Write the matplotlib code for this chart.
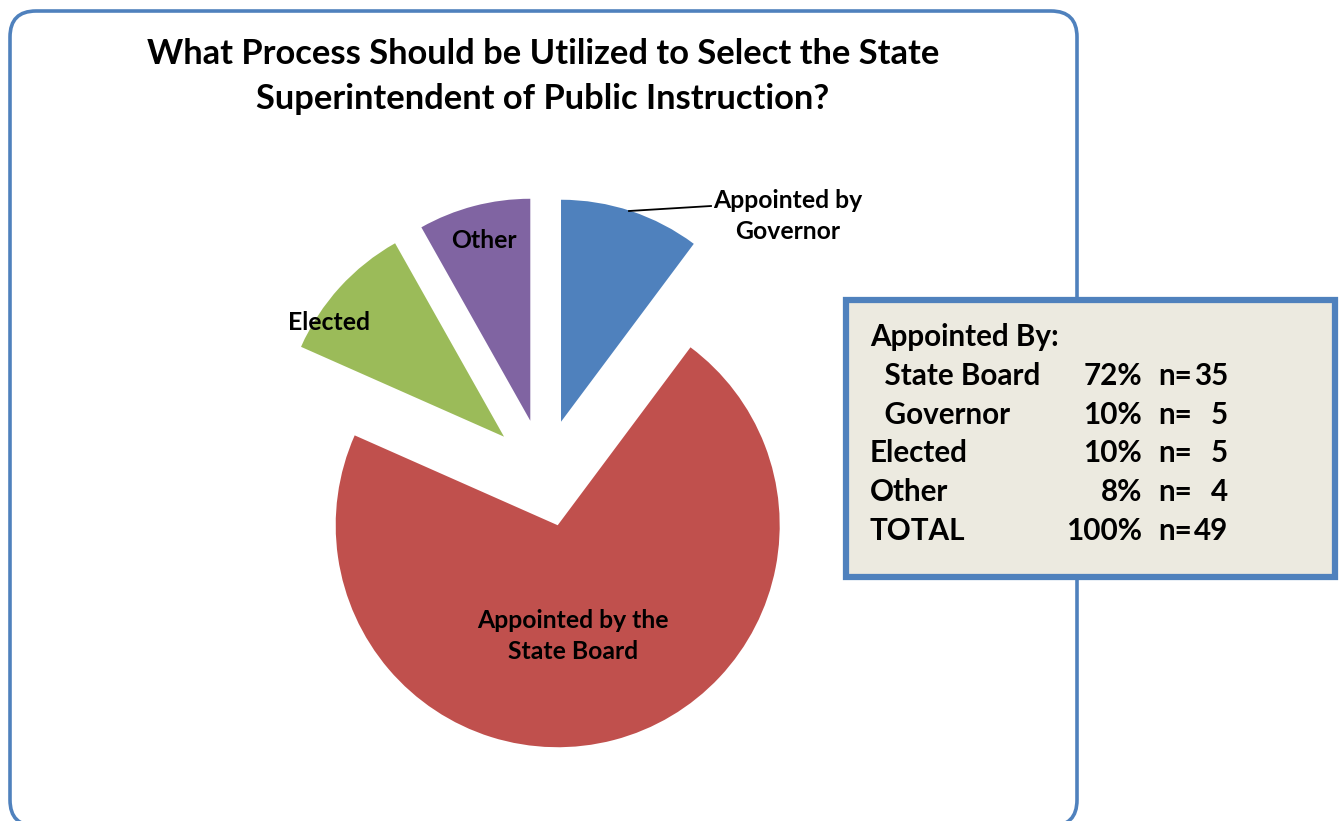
import matplotlib.pyplot as plt
from matplotlib.patches import FancyBboxPatch, Rectangle

plt.rcParams['font.family'] = ['Lato', 'DejaVu Sans']
plt.rcParams['font.weight'] = 'bold'

# data
categories = ["Appointed by\nGovernor", "Appointed by the\nState Board", "Elected", "Other"]
counts = [5, 35, 5, 4]
colors = ["#4F81BD", "#C0504D", "#9BBB59", "#8064A2"]

table_labels = ["Appointed By:", "  State Board", "  Governor", "Elected", "Other", "TOTAL"]
table_pct = ["", "72%", "10%", "10%", "8%", "100%"]
table_n = ["", "35", "5", "5", "4", "49"]

W, H = 1343, 821


def Y(y):
    # pixel row (top-down) -> axes y (bottom-up)
    return H - y


fig = plt.figure(figsize=(W / 100, H / 100), dpi=100)
ax = fig.add_axes([0, 0, 1, 1])

# outer chart frame (bottom edge runs just off the image)
frame = FancyBboxPatch((10, Y(826)), 1067, 815, boxstyle="round,pad=0,rounding_size=26",
                       facecolor="white", edgecolor="#4F81BD", linewidth=2.6, zorder=0)
ax.add_patch(frame)

radius = 222
ax.pie(counts, colors=colors, startangle=90, counterclock=False,
       center=(544, Y(473)), radius=radius, explode=[54] * len(counts),
       wedgeprops=dict(linewidth=0), frame=True)

ax.set_xlim(0, W)
ax.set_ylim(0, H)
ax.set_aspect('auto')
ax.axis('off')

ax.text(543, Y(76), "What Process Should be Utilized to Select the State\nSuperintendent of Public Instruction?",
        ha="center", va="center", fontsize=24.8, fontweight="bold", linespacing=1.5)

# slice labels
lab_fs = 17.8
ax.plot([629, 711], [Y(211), Y(206)], color="black", linewidth=1.3)
ax.text(788, Y(216), categories[0], ha="center", va="center", fontsize=lab_fs, linespacing=1.42)
ax.text(573, Y(636), categories[1], ha="center", va="center", fontsize=lab_fs, linespacing=1.42)
ax.text(329, Y(322), categories[2], ha="center", va="center", fontsize=lab_fs)
ax.text(484, Y(240), categories[3], ha="center", va="center", fontsize=lab_fs)

# summary box
box = Rectangle((846, Y(577)), 489, 277, facecolor="#ECEAE0", edgecolor="#4F81BD",
                linewidth=4.5, zorder=3)
ax.add_patch(box)
tb_fs = 21.3
for i, (lab, pct, n) in enumerate(zip(table_labels, table_pct, table_n)):
    yy = Y(337 + i * 38.8)
    ax.text(870, yy, lab, ha="left", va="center", fontsize=tb_fs, zorder=4)
    if pct:
        ax.text(1142, yy, pct, ha="right", va="center", fontsize=tb_fs, zorder=4)
        ax.text(1158, yy, "n=", ha="left", va="center", fontsize=tb_fs, zorder=4)
        ax.text(1228, yy, n, ha="right", va="center", fontsize=tb_fs, zorder=4)

fig.savefig("out.png", dpi=100)
